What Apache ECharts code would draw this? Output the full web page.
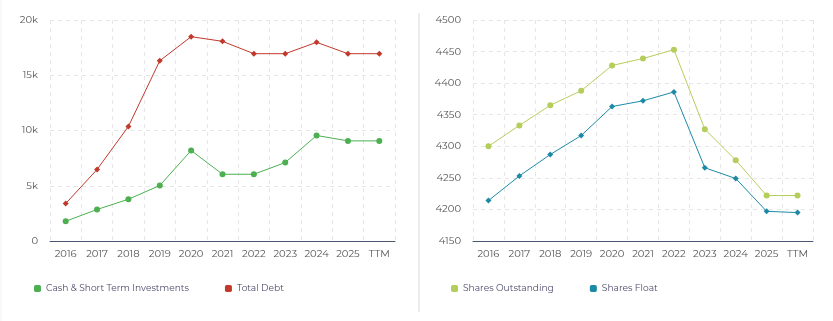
<!DOCTYPE html>
<html><head><meta charset="utf-8">
<script src="https://cdn.jsdelivr.net/npm/echarts@6/dist/echarts.min.js"></script>
<style>html,body{margin:0;padding:0;background:#fff}#c{width:833px;height:321px}</style>
</head><body><div id="c"></div>
<script>
const categories = ['2016','2017','2018','2019','2020','2021','2022','2023','2024','2025','TTM'];
const cashShortTerm = [1790, 2850, 3780, 5020, 8190, 6040, 6040, 7100, 9550, 9060, 9060];
const totalDebt = [3390, 6470, 10370, 16310, 18490, 18070, 16950, 16950, 17980, 16950, 16950];
const sharesOutstanding = [4300, 4333, 4365, 4388, 4428, 4439, 4453, 4327, 4278, 4222, 4222];
const sharesFloat = [4214, 4253, 4287, 4317, 4363, 4372, 4386, 4266, 4249, 4197, 4195];
const leftTicks = {min: 0, max: 20000, interval: 5000};
const rightTicks = {min: 4150, max: 4500, interval: 50};

const font = 'Montserrat, "Open Sans", Lato, sans-serif';
const chart = echarts.init(document.getElementById('c'));
function xAxis(gi){
  return {type:'category', gridIndex:gi, data:categories, boundaryGap:true,
    axisLine:{lineStyle:{color:'#4b5670', width:1}},
    axisTick:{alignWithLabel:true, length:5, lineStyle:{color:'#4b5670'}},
    axisLabel:{color:'#555', fontSize:10, fontFamily:font, margin:8, interval:0},
    splitLine:{show:true, lineStyle:{color:'#e6e6e6', type:[4,4]}}};
}
function yAxis(gi, t, fmt){
  return {type:'value', gridIndex:gi, min:t.min, max:t.max, interval:t.interval,
    axisLine:{show:false}, axisTick:{show:false},
    axisLabel:{color:'#555', fontSize:10, fontFamily:font, margin:12, formatter:fmt},
    splitLine:{show:true, lineStyle:{color:'#e6e6e6', type:[4,4]}}};
}
function line(name, data, color, symbol, size, xi){
  return {name, type:'line', data, xAxisIndex:xi, yAxisIndex:xi, symbol, symbolSize:size,
    itemStyle:{color}, lineStyle:{color, width:1}, emphasis:{disabled:true}};
}
const legendText = {color:'#4a4a6a', fontSize:9.1, fontFamily:font};
chart.setOption({
  animation:false,
  grid:[{left:50, right:438, top:20, bottom:80},{left:473, right:20, top:20, bottom:80}],
  xAxis:[xAxis(0), xAxis(1)],
  yAxis:[yAxis(0, leftTicks, v => v===0 ? '0' : (v/1000)+'k'), yAxis(1, rightTicks, v => String(v))],
  legend:[
    {data:['Cash & Short Term Investments','Total Debt'], left:29, top:279, itemWidth:7, itemHeight:7, itemGap:36,
     icon:'roundRect', textStyle:legendText},
    {data:['Shares Outstanding','Shares Float'], left:446, top:279, itemWidth:7, itemHeight:7, itemGap:36,
     icon:'roundRect', textStyle:legendText}
  ],
  graphic:[
    {type:'line', shape:{x1:419, y1:13, x2:419, y2:312}, style:{stroke:'#ececec', lineWidth:2}},
    {type:'line', shape:{x1:1, y1:0, x2:1, y2:321}, style:{stroke:'#f2f2f2', lineWidth:1}}
  ],
  series:[
    line('Cash & Short Term Investments', cashShortTerm, '#4caf50', 'circle', 6, 0),
    line('Total Debt', totalDebt, '#c0392b', 'diamond', 6, 0),
    line('Shares Outstanding', sharesOutstanding, '#b5cd5b', 'circle', 6, 1),
    line('Shares Float', sharesFloat, '#1c8aa6', 'diamond', 6, 1)
  ]
});
</script></body></html>
